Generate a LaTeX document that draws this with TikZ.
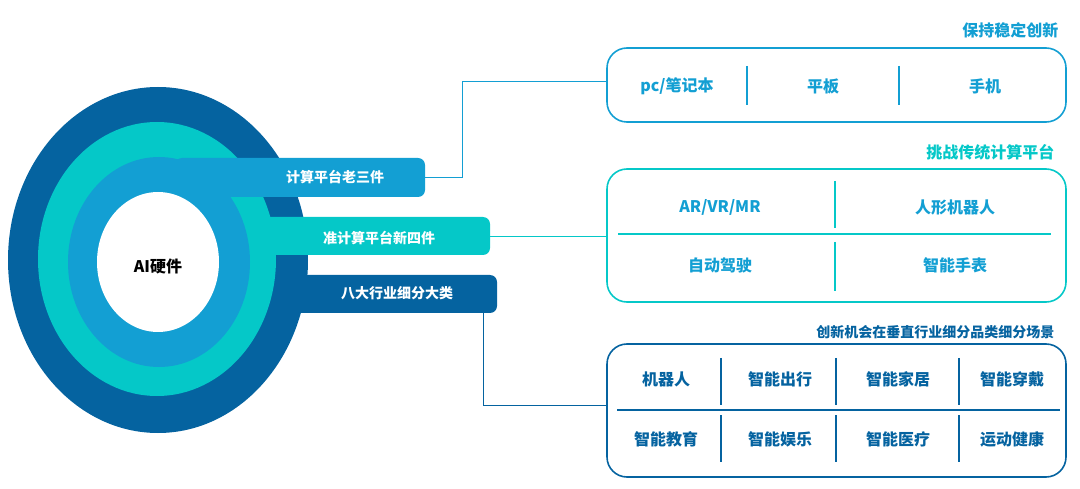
\documentclass[tikz,border=0pt]{standalone}
\usepackage{fontspec}
\setmainfont{Noto Sans CJK SC}
\definecolor{dk}{HTML}{0563A0}
\definecolor{tl}{HTML}{05C8C8}
\definecolor{lb}{HTML}{139FD3}
\begin{document}
\begin{tikzpicture}[x=1pt,y=-1pt,
  bar/.style={font=\bfseries\fontsize{14}{16}\selectfont,text=white},
  it/.style={font=\bfseries\fontsize{16}{18}\selectfont},
  ttl/.style={font=\bfseries\fontsize{16}{18}\selectfont,anchor=east},
  bx/.style={line width=1.6pt,rounded corners=20pt},
  dv/.style={line width=1.3pt},
  cn/.style={line width=0.8pt}]
\useasboundingbox (0,0) rectangle (1080,489);
% rings and bars
\fill[dk] (158,260) ellipse [x radius=150,y radius=173];
\fill[dk,rounded corners=7pt] (200,275) rectangle (497,313);
\fill[tl] (157,259) ellipse [x radius=119,y radius=137];
\fill[tl,rounded corners=7pt] (200,217) rectangle (490,255);
\fill[lb] (159,262) ellipse [x radius=91,y radius=105];
\fill[lb,rounded corners=7pt] (175,158) rectangle (425,197);
\fill[white] (158,262) ellipse [x radius=61,y radius=70];
\node[font=\bfseries\fontsize{16}{18}\selectfont] (ai) at (158,266) {AI硬件};
\coordinate (b1) at (425,177);
\coordinate (b2) at (490,236);
\coordinate (b3) at (483,313);
\node[bar] (t1) at (335,177) {计算平台老三件};
\node[bar] (t2) at (379,238) {准计算平台新四件};
\node[bar] (t3) at (397,293) {八大行业细分大类};
% boxes
\draw[bx,lb] (607,48) rectangle (1066,122);
\coordinate (B1) at (607,81);
\draw[dv,lb] (747,66) -- (747,105) (899,66) -- (899,105);
\node[it,text=lb] at (677,86) {pc/笔记本};
\node[it,text=lb] at (823,86) {平板};
\node[it,text=lb] at (985,86) {手机};
\node[ttl,text=lb] at (1062,30) {保持稳定创新};

\draw[bx,tl] (607,169) rectangle (1066,302);
\coordinate (B2) at (607,236);
\draw[dv,tl] (618,234) -- (1051,234) (835,181) -- (835,228) (835,242) -- (835,291);
\node[it,text=lb] at (720,207) {AR/VR/MR};
\node[it,text=lb] at (955,207) {人形机器人};
\node[it,text=lb] at (720,265) {自动驾驶};
\node[it,text=lb] at (955,265) {智能手表};
\node[ttl,text=tl] at (1058,152) {挑战传统计算平台};

\draw[bx,dk] (607,344) rectangle (1066,477);
\coordinate (B3) at (607,405);
\draw[dv,dk] (617,410) -- (1060,410);
\foreach \x in {721,836,959} \draw[dv,dk] (\x,358) -- (\x,405) (\x,415) -- (\x,462);
\node[it,text=dk] at (666,379) {机器人};
\node[it,text=dk] at (780,379) {智能出行};
\node[it,text=dk] at (898,379) {智能家居};
\node[it,text=dk] at (1012,379) {智能穿戴};
\node[it,text=dk] at (666,439) {智能教育};
\node[it,text=dk] at (780,439) {智能娱乐};
\node[it,text=dk] at (898,439) {智能医疗};
\node[it,text=dk] at (1012,439) {运动健康};
\node[ttl,text=dk,font=\bfseries\fontsize{14}{16}\selectfont] at (1058,332) {创新机会在垂直行业细分品类细分场景};
% connectors
\draw[cn,lb] (b1) -- (462,177) |- (B1);
\draw[cn,tl] (b2) -- (B2);
\draw[cn,dk] (b3) |- (B3);
\end{tikzpicture}
\end{document}
